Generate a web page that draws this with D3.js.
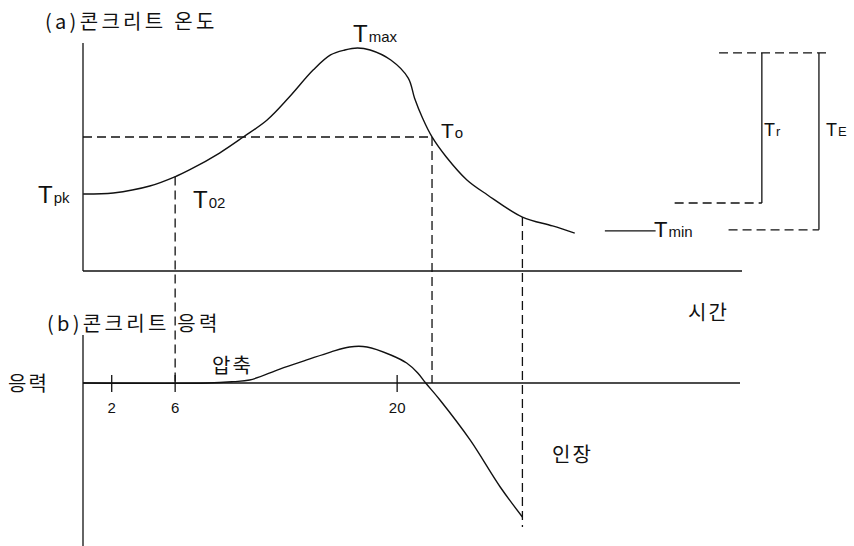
<!DOCTYPE html>
<html>
<head>
<meta charset="utf-8">
<script src="https://cdn.jsdelivr.net/npm/d3@7"></script>
<style>
  html, body { margin: 0; padding: 0; background: #fff; }
  svg { display: block; }
  .kr { font-family: "Noto Sans CJK KR", sans-serif; font-size: 20px; fill: #111; }
  .sym { font-family: "Liberation Sans Narrow", "Liberation Sans", Arial, sans-serif; fill: #111; }
  .sub { font-family: "Liberation Sans", Arial, sans-serif; fill: #111; }
  .tick { font-family: "Liberation Sans", Arial, sans-serif; font-size: 15px; fill: #111; }
</style>
</head>
<body>
<svg id="chart" width="854" height="546"></svg>
<script>
// Concrete temperature history (time, temperature)
const tempTime  = [0.2, 2.1, 4.4, 6.1, 6.9, 8.8, 10.3, 11.8, 13.2, 14.7, 15.8, 16.7, 17.5, 18.3, 19.6, 20.7, 21.1, 21.6, 22.2, 23.1, 24.4, 25.7, 27.9, 29.8, 31.2];
const tempValue = [34.5, 35.0, 38.1, 42.6, 45.3, 52.9, 60.1, 67.7, 78.0, 90.1, 96.9, 99.1, 100, 99.1, 94.6, 86.5, 77.5, 68.6, 60.1, 51.1, 40.8, 34.1, 24.2, 20.2, 17.0];

// Concrete stress history (compression positive, tension negative)
const stressTime  = [0.2, 8.1, 9.65, 10.7, 12.6, 14.3, 15.8, 17.0, 18.1, 19.6, 20.6, 21.3, 21.8, 22.7, 24.6, 26.5, 27.9];
const stressValue = [0, 0, 0.01, 0.022, 0.104, 0.172, 0.231, 0.269, 0.269, 0.209, 0.149, 0.075, 0, -0.127, -0.425, -0.776, -1.0];

// Characteristic instants and temperature levels
const tT02 = 6, tTo = 22.2, tEnd = 27.9;
const T0 = 60.1;
const TrTop = 97.8, TrBottom = 30.5, TminLevel = 18;
const timeTicks = [2, 6, 20];

const svg = d3.select("#chart");
const axisX = 83, axisEnd = 742;

const x = d3.scaleLinear().domain([0, 42]).range([80, 746]);
const yT = d3.scaleLinear().domain([0, 100]).range([271, 48]);
const yS = d3.scaleLinear().domain([-1, 0]).range([517, 383]);

const ink = "#111";
const dash = "9,5";

function line(g, x1, y1, x2, y2, dashed) {
  g.append("line")
    .attr("x1", x1).attr("y1", y1).attr("x2", x2).attr("y2", y2)
    .attr("stroke", ink).attr("stroke-width", 1.3)
    .attr("stroke-dasharray", dashed ? dash : null);
}

const g = svg.append("g");

// ----- (a) temperature panel -----
line(g, axisX, 43, axisX, yT(0));
line(g, axisX, yT(0), axisEnd, yT(0));

const tempLine = d3.line()
  .x((d, i) => x(tempTime[i]))
  .y(d => yT(d))
  .curve(d3.curveCatmullRom.alpha(0.5));
g.append("path")
  .attr("d", tempLine(tempValue))
  .attr("fill", "none").attr("stroke", ink).attr("stroke-width", 1.4);

// temperature at an arbitrary instant, for guide line endpoints
const Tat = t => {
  const i = d3.bisectLeft(tempTime, t);
  if (i <= 0) return tempValue[0];
  const a = tempTime[i - 1], b = tempTime[i];
  return tempValue[i - 1] + (tempValue[i] - tempValue[i - 1]) * (t - a) / (b - a);
};

// guide lines
line(g, axisX, yT(T0), x(tTo), yT(T0), true);
line(g, x(tT02), yT(Tat(tT02)), x(tT02), yS(0), true);
line(g, x(tTo), yT(T0), x(tTo), yS(0), true);
line(g, x(tEnd), yT(Tat(tEnd)), x(tEnd), yS(-1) + 10, true);

// Tr / TE brackets on the right
const xTr = x(43.0), xTE = x(46.6);
line(g, x(40.3), yT(TrTop), x(47.1), yT(TrTop), true);
line(g, xTr, yT(TrTop), xTr, yT(TrBottom));
line(g, x(37.5), yT(TrBottom), xTr, yT(TrBottom), true);
line(g, xTE, yT(TrTop), xTE, yT(TminLevel) - 1);
line(g, x(40.9), yT(TminLevel) - 1, xTE, yT(TminLevel) - 1, true);
line(g, x(33.1), yT(TminLevel), x(36.3), yT(TminLevel));

// symbol labels: big T with a small suffix on the same baseline
function sym(px, py, main, suffix, size, subSize) {
  const t = g.append("text").attr("x", px).attr("y", py);
  t.append("tspan").attr("class", "sym").attr("font-size", size).text(main);
  t.append("tspan").attr("class", "sub").attr("font-size", subSize).attr("dx", 1).text(suffix);
}
sym(353, 42, "T", "max", 24, 15);
sym(38, 203, "T", "pk", 24, 15);
sym(193, 208, "T", "02", 24, 15);
sym(441, 138, "T", "o", 21, 15);
sym(764, 136, "T", "r", 18, 13);
sym(826, 136, "T", "E", 18, 13);
sym(654, 237, "T", "min", 22, 15);

// ----- (b) stress panel -----
line(g, axisX, 335, axisX, 546);
line(g, axisX, yS(0), 740, yS(0));

timeTicks.forEach(t => {
  line(g, x(t), yS(0) - 8, x(t), yS(0) + 9);
  g.append("text").attr("class", "tick")
    .attr("x", x(t)).attr("y", yS(0) + 30)
    .attr("text-anchor", "middle").text(t);
});

const stressLine = d3.line()
  .x((d, i) => x(stressTime[i]))
  .y(d => yS(d))
  .curve(d3.curveCatmullRom.alpha(0.5));
g.append("path")
  .attr("d", stressLine(stressValue))
  .attr("fill", "none").attr("stroke", ink).attr("stroke-width", 1.4);

// Korean labels
function kr(px, py, txt, ls) {
  g.append("text").attr("class", "kr")
    .attr("x", px).attr("y", py)
    .attr("letter-spacing", ls)
    .text(txt);
}
kr(45, 29, "(a)콘크리트 온도", 3.3);
kr(47, 331, "(b)콘크리트 응력", 3.3);
kr(688, 320, "시간", 2);
kr(552, 462, "인장", 2);
kr(212, 373, "압축", 2);
kr(8, 391, "응력", 2);
</script>
</body>
</html>
